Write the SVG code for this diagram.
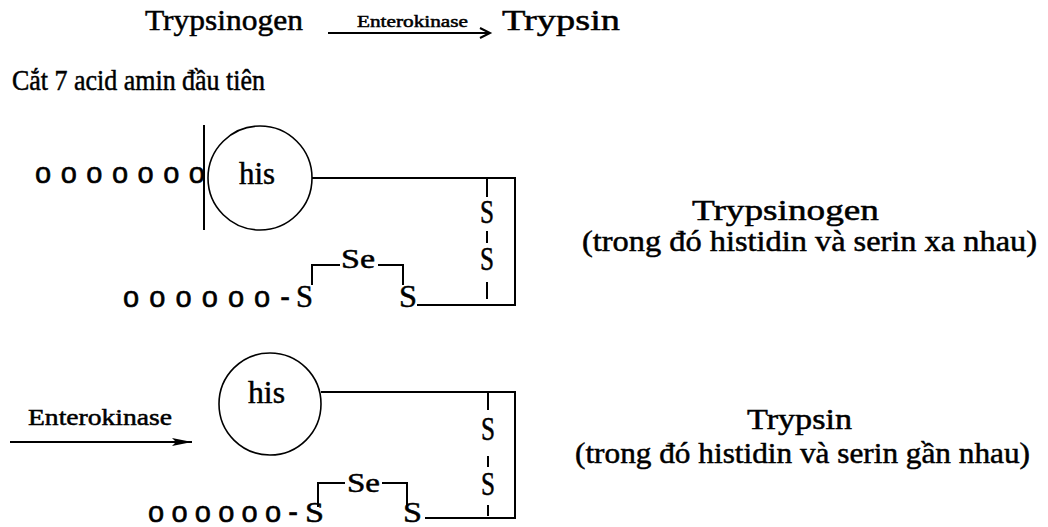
<svg xmlns="http://www.w3.org/2000/svg" width="1048" height="527" viewBox="0 0 1048 527">
<style>
.t{font-family:"Liberation Serif","Times New Roman",serif;fill:#000;stroke:#000;stroke-width:0.5}
.o{font-family:"Liberation Sans",Arial,sans-serif;fill:#000;font-size:29px;stroke:#000;stroke-width:0.6}
.ln{stroke:#000;stroke-width:2;fill:none}
.c{stroke:#000;stroke-width:1.6;fill:#fff}
</style>
<defs>
<marker id="fh" viewBox="0 0 20 10" refX="20" refY="5" markerWidth="20" markerHeight="10" markerUnits="userSpaceOnUse" orient="auto">
<path d="M0,1 L20,5 L0,9 L4,5 Z" fill="#000"/>
</marker>
</defs>
<rect width="1048" height="527" fill="#fff"/>

<g id="title">
<text class="t" x="145" y="30" font-size="30" textLength="158" lengthAdjust="spacingAndGlyphs">Trypsinogen</text>
<text class="t" x="357" y="27" font-size="17" textLength="111" lengthAdjust="spacingAndGlyphs" stroke-width="0.3">Enterokinase</text>
<text class="t" x="502" y="30" font-size="30" textLength="118" lengthAdjust="spacingAndGlyphs">Trypsin</text>
<text class="t" x="12" y="90" font-size="29" textLength="253" lengthAdjust="spacingAndGlyphs">Cắt 7 acid amin đầu tiên</text>
</g>

<g id="connectors">
<line class="ln" x1="328" y1="33" x2="489" y2="33" stroke-width="1.8"/>
<path class="ln" d="M480,28 L490,33 L480,38" stroke-width="1.8"/>
<line x1="10" y1="442" x2="192" y2="442" stroke="#000" stroke-width="1.8" marker-end="url(#fh)"/>
</g>

<g id="trypsinogen">
<text class="o" x="35" y="183" textLength="170">o o o o o o o</text>
<line class="ln" x1="204" y1="125" x2="204" y2="230"/>
<circle class="c" cx="260" cy="178" r="52"/>
<text class="t" x="239" y="184" font-size="32" textLength="36" lengthAdjust="spacingAndGlyphs">his</text>
<polyline class="ln" points="312,178 515,178 515,305 417,305"/>
<line class="ln" x1="487" y1="178" x2="487" y2="197"/>
<text class="t" x="480" y="223" font-size="33" textLength="14" lengthAdjust="spacingAndGlyphs">S</text>
<line class="ln" x1="487" y1="231" x2="487" y2="243"/>
<text class="t" x="480" y="270" font-size="33" textLength="14" lengthAdjust="spacingAndGlyphs">S</text>
<line class="ln" x1="487" y1="282" x2="487" y2="299"/>
<polyline class="ln" points="312,285 312,265 340,265"/>
<text class="t" x="341" y="268" font-size="27" textLength="34" lengthAdjust="spacingAndGlyphs">Se</text>
<polyline class="ln" points="378,265 403,265 403,285"/>
<text class="o" x="123" y="307" textLength="167">o o o o o o -</text>
<text class="t" x="296" y="307" font-size="31" textLength="17" lengthAdjust="spacingAndGlyphs">S</text>
<text class="t" x="399" y="307" font-size="31" textLength="18" lengthAdjust="spacingAndGlyphs">S</text>
<text class="t" x="692" y="220" font-size="29" textLength="187" lengthAdjust="spacingAndGlyphs">Trypsinogen</text>
<text class="t" x="582" y="251" font-size="29" textLength="455" lengthAdjust="spacingAndGlyphs">(trong đó histidin và serin xa nhau)</text>
</g>

<g id="trypsin">
<text class="t" x="28" y="425" font-size="23" textLength="144" lengthAdjust="spacingAndGlyphs" stroke-width="0.4">Enterokinase</text>
<circle class="c" cx="270" cy="404" r="51"/>
<text class="t" x="248" y="403" font-size="32" textLength="37" lengthAdjust="spacingAndGlyphs">his</text>
<polyline class="ln" points="321,392 515,392 515,518 425,518"/>
<line class="ln" x1="488" y1="392" x2="488" y2="410"/>
<text class="t" x="481" y="440" font-size="33" textLength="14" lengthAdjust="spacingAndGlyphs">S</text>
<line class="ln" x1="488" y1="456" x2="488" y2="467"/>
<text class="t" x="481" y="495" font-size="33" textLength="14" lengthAdjust="spacingAndGlyphs">S</text>
<line class="ln" x1="488" y1="505" x2="488" y2="516"/>
<polyline class="ln" points="318,507 318,483 345,483"/>
<text class="t" x="347" y="492" font-size="27" textLength="33" lengthAdjust="spacingAndGlyphs">Se</text>
<polyline class="ln" points="382,483 407,483 407,507"/>
<text class="o" x="148" y="522" textLength="150">o o o o o o -</text>
<text class="t" x="305" y="522" font-size="30" textLength="19" lengthAdjust="spacingAndGlyphs">S</text>
<text class="t" x="403" y="522" font-size="30" textLength="19" lengthAdjust="spacingAndGlyphs">S</text>
<text class="t" x="747" y="429" font-size="29" textLength="105" lengthAdjust="spacingAndGlyphs">Trypsin</text>
<text class="t" x="575" y="463" font-size="29" textLength="455" lengthAdjust="spacingAndGlyphs">(trong đó histidin và serin gần nhau)</text>
</g>
</svg>
